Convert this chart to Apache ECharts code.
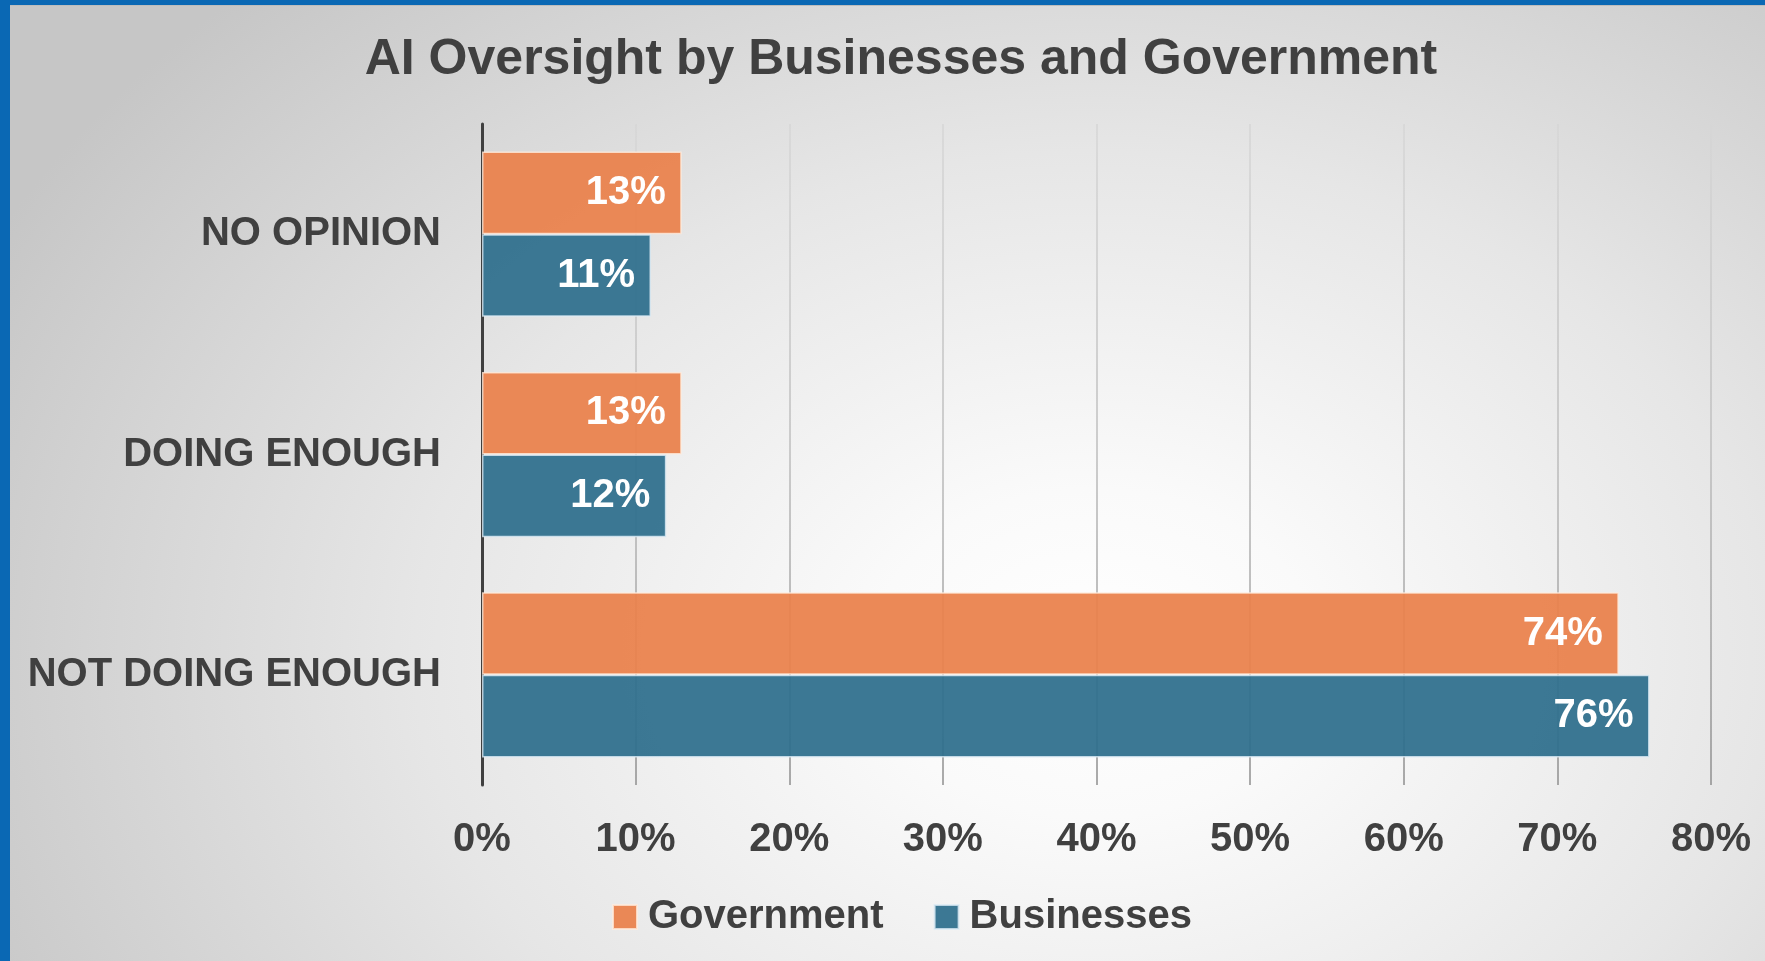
<!DOCTYPE html>
<html>
<head>
<meta charset="utf-8">
<title>AI Oversight by Businesses and Government</title>
<script src="https://cdn.jsdelivr.net/npm/echarts@6/dist/echarts.min.js"></script>
<style>
  html, body { margin: 0; padding: 0; width: 1765px; height: 961px; overflow: hidden; }
  #frame {
    position: absolute; left: 0; top: 0; width: 1765px; height: 961px;
    background: radial-gradient(ellipse 70% 95% at 62% 68%, #ffffff 0%, #fafafa 18%, #e6e6e6 55%, #c6c6c6 100%);
  }
  #edgeLeft { position: absolute; left: 0; top: 0; width: 10px; height: 961px; background: #0A68B4; }
  #edgeTop { position: absolute; left: 0; top: 0; width: 1765px; height: 5px; background: #0A68B4; border-bottom: 1px solid #bdbdbd; }
  #chart { position: absolute; left: 0; top: 0; width: 1765px; height: 961px; }
</style>
</head>
<body>
<div id="frame"></div>
<div id="chart"></div>
<div id="edgeTop"></div>
<div id="edgeLeft"></div>
<script>
// Survey categories, listed bottom-to-top as the category axis draws them
const categories = ['NOT DOING ENOUGH', 'DOING ENOUGH', 'NO OPINION'];
// Share of respondents (%) per category
const governmentValues = [74, 13, 13];
const businessValues = [76, 12, 11];
// Value axis ticks
const axisMin = 0;
const axisMax = 80;
const axisStep = 10;

const textColor = '#404040';
const fontFamily = '"Liberation Sans", Arial, sans-serif';

const chart = echarts.init(document.getElementById('chart'), null, { renderer: 'canvas' });

const gridTop = 124;
const gridBottom = 176;

const barLabel = {
  show: true,
  position: 'insideRight',
  distance: 16,
  formatter: '{c}%',
  color: '#ffffff',
  fontFamily: fontFamily,
  fontWeight: 'bold',
  fontSize: 40
};

const option = {
  backgroundColor: 'transparent',
  animation: false,
  title: {
    text: 'AI Oversight by Businesses and Government',
    left: 896,
    top: 30,
    textAlign: 'center',
    textStyle: { color: textColor, fontFamily: fontFamily, fontWeight: 'bold', fontSize: 50 }
  },
  legend: {
    data: ['Government', 'Businesses'],
    left: 607,
    top: 892,
    itemWidth: 24,
    itemHeight: 24,
    itemGap: 50,
    icon: 'rect',
    textStyle: { color: textColor, fontFamily: fontFamily, fontWeight: 'bold', fontSize: 40, padding: [0, 0, 0, 6] }
  },
  grid: { left: 482, right: 54, top: gridTop, bottom: gridBottom, containLabel: false },
  xAxis: {
    type: 'value',
    min: axisMin,
    max: axisMax,
    interval: axisStep,
    axisLine: { show: false },
    axisTick: { show: false },
    axisLabel: {
      formatter: '{value}%',
      color: textColor,
      fontFamily: fontFamily,
      fontWeight: 'bold',
      fontSize: 40,
      margin: 35
    },
    splitLine: {
      show: true,
      lineStyle: {
        width: 1.5,
        color: new echarts.graphic.LinearGradient(0, gridTop, 0, 961 - gridBottom, [
          { offset: 0, color: '#d6d6d6' },
          { offset: 0.5, color: '#bdbdbd' },
          { offset: 1, color: '#8e8e8e' }
        ], true)
      }
    }
  },
  yAxis: {
    type: 'category',
    data: categories,
    axisLine: { show: true, lineStyle: { color: textColor, width: 3 } },
    axisTick: { show: false },
    axisLabel: {
      color: textColor,
      fontFamily: fontFamily,
      fontWeight: 'bold',
      fontSize: 40,
      margin: 41
    },
    splitLine: { show: false }
  },
  series: [
    {
      name: 'Government',
      type: 'bar',
      data: governmentValues,
      barGap: '0%',
      barCategoryGap: '25%',
      itemStyle: { color: 'rgba(234,130,76,0.94)', borderColor: 'rgba(255,235,220,0.8)', borderWidth: 1.5 },
      label: barLabel
    },
    {
      name: 'Businesses',
      type: 'bar',
      data: businessValues,
      barGap: '0%',
      barCategoryGap: '25%',
      itemStyle: { color: 'rgba(48,112,141,0.94)', borderColor: 'rgba(220,235,245,0.8)', borderWidth: 1.5 },
      label: barLabel
    }
  ]
};

chart.setOption(option);
</script>
</body>
</html>
